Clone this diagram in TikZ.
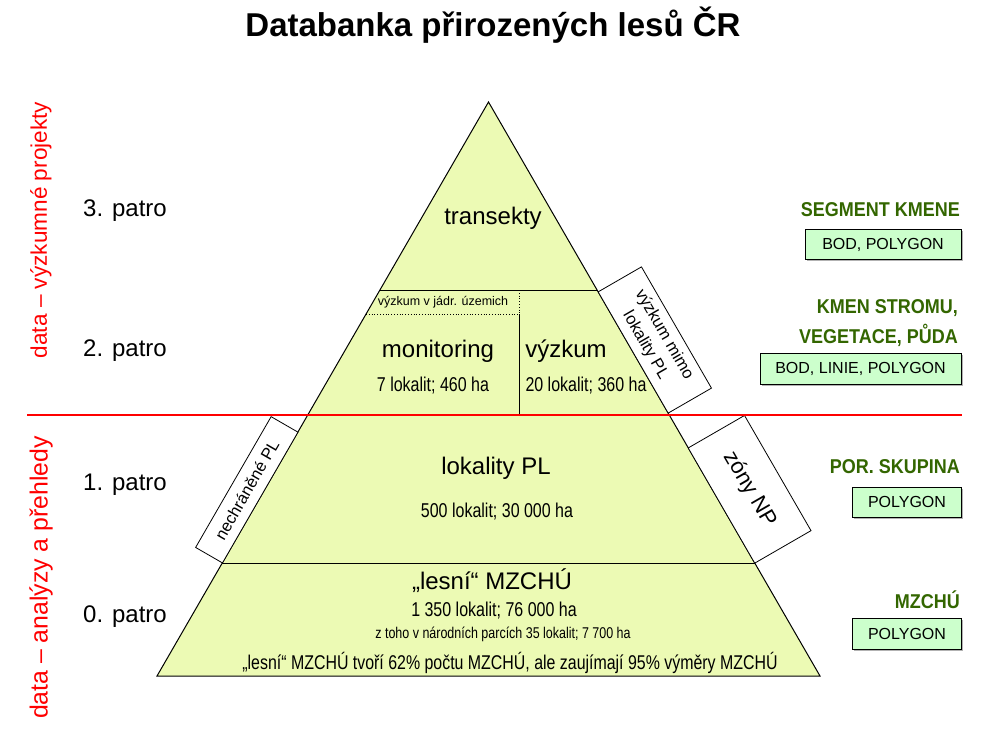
\documentclass[tikz,border=0pt]{standalone}
\usepackage{fontspec}
\setmainfont{Liberation Sans}
\newfontfamily\narrow[FakeStretch=0.8]{Liberation Sans}
\newfontfamily\narrowb[FakeStretch=0.9]{Liberation Sans Bold}
\definecolor{pyrfill}{RGB}{236,250,180}
\definecolor{boxfill}{RGB}{204,255,204}
\definecolor{dgreen}{RGB}{51,102,0}
\newcommand{\fs}[1]{\fontsize{#1}{#1}\selectfont}
\tikzset{
  lbl/.style={inner sep=0pt, font=\fs{24}},
  patro/.style={inner sep=0pt, font=\fs{24}},
  num/.style={inner sep=0pt, font=\narrow\fs{20}},
  side/.style={draw, fill=white, line width=0.8pt, inner sep=0pt, align=center},
  cat/.style={anchor=east, inner sep=0pt, text=dgreen, font=\narrowb\fs{20}},
  geo/.style={draw, fill=boxfill, line width=0.8pt, inner sep=0pt, font=\fs{16}},
  redtxt/.style={text=red, rotate=90, inner sep=0pt}
}
\begin{document}
\begin{tikzpicture}[x=1pt,y=-1pt]
\useasboundingbox (0,0) rectangle (987,738);

% title
\node[inner sep=0pt, font=\bfseries\fs{33}] (title) at (493,25) {Databanka přirozených lesů ČR};

% pyramid
\coordinate (apex) at (488.5,102);
\coordinate (bl) at (157,676);
\coordinate (br) at (820,676);
\draw[fill=pyrfill, line width=1pt] (apex) -- (br) -- (bl) -- cycle;
\draw[line width=1pt] (380,290) -- (597,290);
\draw[line width=1pt] (307.8,415) -- (669.2,415);
\draw[line width=1pt] (222.3,563) -- (754.7,563);
\draw[dotted, line width=0.8pt] (366,314) -- (519,314);
\draw[dotted, line width=0.8pt] (519,290) -- (519,314);
\draw[line width=0.8pt] (519,314) -- (519,415);

% side boxes
\node[side, rotate=60, minimum width=151, minimum height=31, font=\fontsize{16.5}{19}\selectfont] (nechr) at (246.8,489.8) {nechráněné PL};
\node[side, rotate=-60, minimum width=140, minimum height=50, font=\fontsize{16.5}{19.5}\selectfont] (mimo) at (654.8,340) {výzkum mimo\\[2pt]lokality PL};
\node[side, rotate=-60, minimum width=133, minimum height=65, font=\fontsize{22}{26}\selectfont] (zony) at (749.6,489.3) {zóny NP};

% red separator
\draw[red, line width=2.5pt] (27,415) -- (962,415);

% texts inside pyramid
\node[lbl] (trans) at (493,218) {transekty};
\node[inner sep=0pt, font=\fs{12.5}] (jadr) at (443,302) {výzkum v jádr. územich};
\node[lbl] (monit) at (438,351) {monitoring};
\node[num] (monitn) at (433,386) {7 lokalit; 460 ha};
\node[lbl] (vyzk) at (566,351) {výzkum};
\node[num] (vyzkn) at (586,386) {20 lokalit; 360 ha};
\node[lbl] (lokpl) at (496,468) {lokality PL};
\node[num] (lokpln) at (497,512) {500 lokalit; 30 000 ha};
\node[lbl] (mzchu) at (492,581) {„lesní“ MZCHÚ};
\node[num] (mzchun) at (494,611) {1 350 lokalit; 76 000 ha};
\node[inner sep=0pt, font=\narrow\fs{15.6}] (ztoho) at (503,634) {z toho v národních parcích 35 lokalit; 7 700 ha};
\node[inner sep=0pt, font=\narrow\fs{19.9}] (bottom) at (510,663) {„lesní“ MZCHÚ tvoří 62\% počtu MZCHÚ, ale zaujímají 95\% výměry MZCHÚ};

% left labels
\node[patro] (p3) at (125,211) {3. patro};
\node[patro] (p2) at (125,351) {2. patro};
\node[patro] (p1) at (125,485) {1. patro};
\node[patro] (p0) at (125,617) {0. patro};

\node[redtxt, font=\fs{22.6}] (r1) at (41,230) {data – výzkumné projekty};
\node[redtxt, font=\fs{24.8}] (r2) at (41,577.5) {data – analýzy a přehledy};

% right categories
\node[cat] (c3) at (960,210) {SEGMENT KMENE};
\fill[gray!60] (806.5,231) rectangle (962.5,260.5);
\node[geo, minimum width=156, minimum height=29.5] (g3) at (883,244.5) {BOD, POLYGON};

\node[cat] (c2a) at (958,308) {KMEN STROMU,};
\node[cat] (c2b) at (958,335) {VEGETACE, PŮDA};
\fill[gray!60] (761.5,355) rectangle (962.5,385.5);
\node[geo, minimum width=201, minimum height=30.5] (g2) at (860.5,369) {BOD, LINIE, POLYGON};

\node[cat] (c1) at (960,467) {POR. SKUPINA};
\fill[gray!60] (853.5,488.5) rectangle (962.5,518.5);
\node[geo, minimum width=109, minimum height=30] (g1) at (907,502) {POLYGON};

\node[cat] (c0) at (960,600) {MZCHÚ};
\fill[gray!60] (853.5,619.5) rectangle (962.5,650.5);
\node[geo, minimum width=109, minimum height=31] (g0) at (907,633.5) {POLYGON};
\end{tikzpicture}
\end{document}
